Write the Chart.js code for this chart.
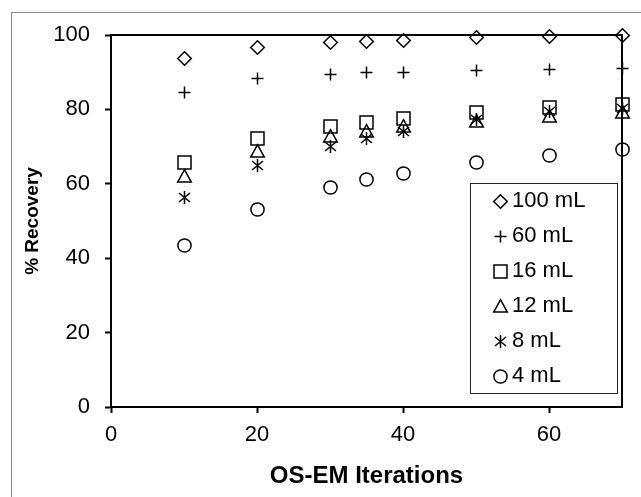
<!DOCTYPE html>
<html>
<head>
<meta charset="utf-8">
<script src="https://cdn.jsdelivr.net/npm/chart.js@4.4.1/dist/chart.umd.min.js"></script>
<style>
  body { margin: 0; background: #fff; }
  canvas { display: block; }
</style>
</head>
<body>
<canvas id="grafico" width="641" height="497"></canvas>
<script>
// iteracoes OS-EM (eixo x)
var iteracoes = [10, 20, 30, 35, 40, 50, 60, 70];
// % de recuperacao por volume
var rec100 = [93.6, 96.7, 98.0, 98.3, 98.5, 99.4, 99.6, 100.0];
var rec60 = [84.5, 88.2, 89.5, 90.0, 90.0, 90.4, 90.8, 90.9];
var rec16 = [65.8, 72.1, 75.4, 76.4, 77.6, 79.1, 80.6, 81.2];
var rec12 = [61.9, 68.6, 72.7, 74.0, 75.4, 76.7, 78.1, 79.1];
var rec8 = [56.3, 64.8, 70.0, 72.2, 74.0, 77.2, 79.4, 80.3];
var rec4 = [43.3, 53.2, 59.0, 61.2, 62.8, 65.7, 67.7, 69.3];
var nomes = ['100 mL', '60 mL', '16 mL', '12 mL', '8 mL', '4 mL'];
var ticksX = [0, 20, 40, 60];
var ticksY = [0, 20, 40, 60, 80, 100];

var fonte = 'Arial, "Liberation Sans", sans-serif';

function pontos(valores) {
    return iteracoes.map(function (x, i) { return { x: x, y: valores[i] }; });
}

// marcadores no estilo do Excel, desenhados num canvas pequeno
function marcador(tipo) {
    var t = 17, c = 8.5;
    var cv = document.createElement('canvas');
    cv.width = t;
    cv.height = t;
    var g = cv.getContext('2d');
    g.strokeStyle = '#000';
    g.lineWidth = 1.5;
    g.beginPath();
    if (tipo == 'losango') {
        g.moveTo(c, c - 6.8); g.lineTo(c + 6.8, c); g.lineTo(c, c + 6.8); g.lineTo(c - 6.8, c); g.closePath();
    } else if (tipo == 'mais') {
        g.moveTo(c - 6, c); g.lineTo(c + 6, c);
        g.moveTo(c, c - 6); g.lineTo(c, c + 6);
    } else if (tipo == 'quadrado') {
        g.rect(c - 6.5, c - 6.5, 13, 13);
    } else if (tipo == 'triangulo') {
        g.moveTo(c, c - 6.8); g.lineTo(c + 6.8, c + 5.6); g.lineTo(c - 6.8, c + 5.6); g.closePath();
    } else if (tipo == 'asterisco') {
        g.moveTo(c, c - 6.5); g.lineTo(c, c + 6.5);
        g.moveTo(c - 5.5, c - 4.5); g.lineTo(c + 5.5, c + 4.5);
        g.moveTo(c - 5.5, c + 4.5); g.lineTo(c + 5.5, c - 4.5);
    } else {
        g.arc(c, c, 6.6, 0, Math.PI * 2);
    }
    g.stroke();
    return cv;
}

function serie(nome, valores, estilo) {
    return {
        label: nome,
        data: pontos(valores),
        showLine: false,
        clip: false,
        pointStyle: marcador(estilo),
        pointRadius: 7,
        pointBorderWidth: 1.5,
        pointBorderColor: '#000',
        pointBackgroundColor: 'rgba(0,0,0,0)',
        borderColor: '#000',
        backgroundColor: 'rgba(0,0,0,0)'
    };
}

var molduras = {
    id: 'molduras',
    afterLayout: function (chart) {
        var leg = chart.legend;
        if (!leg) return;
        var w = leg.width, h = leg.height;
        leg.left = 486;
        leg.top = 177;
        leg.right = leg.left + w;
        leg.bottom = leg.top + h;
    },
    beforeDraw: function (chart) {
        var ctx = chart.ctx;
        ctx.imageSmoothingEnabled = false;
        ctx.save();
        ctx.strokeStyle = '#8c8c8c';
        ctx.lineWidth = 1;
        ctx.strokeRect(11.5, 12.5, 700, 600);
        ctx.restore();
    },
    beforeDatasetsDraw: function (chart) {
        var ctx = chart.ctx;
        var a = chart.chartArea;
        ctx.save();
        ctx.strokeStyle = '#000';
        ctx.lineWidth = 2;
        ctx.strokeRect(a.left, a.top, a.right - a.left, a.bottom - a.top);
        ctx.lineWidth = 1;
        ctx.strokeStyle = '#222';
        ctx.strokeRect(470.5, 183.5, 147, 210);
        ctx.restore();
    }
};

var ctx = document.getElementById('grafico').getContext('2d');
var grafico = new Chart(ctx, {
    type: 'scatter',
    data: {
        datasets: [
            serie(nomes[0], rec100, 'losango'),
            serie(nomes[1], rec60, 'mais'),
            serie(nomes[2], rec16, 'quadrado'),
            serie(nomes[3], rec12, 'triangulo'),
            serie(nomes[4], rec8, 'asterisco'),
            serie(nomes[5], rec4, 'circulo')
        ]
    },
    options: {
        responsive: false,
        animation: false,
        events: [],
        layout: { padding: { top: 35, right: 19, left: 12, bottom: 0 } },
        plugins: {
            tooltip: { enabled: false },
            legend: {
                position: 'chartArea',
                align: 'start',
                labels: {
                    usePointStyle: true,
                    boxWidth: 2,
                    boxHeight: 10,
                    padding: 13,
                    color: '#000',
                    font: { family: fonte, size: 22 }
                }
            }
        },
        scales: {
            x: {
                type: 'linear',
                min: 0,
                max: 70,
                afterFit: function (s) { s.height = 90; },
                afterBuildTicks: function (s) { s.ticks = ticksX.map(function (v) { return { value: v }; }); },
                grid: { drawOnChartArea: false, tickLength: 6, tickWidth: 2, tickColor: '#000' },
                border: { display: true, color: '#000', width: 2 },
                ticks: { color: '#000', padding: 9, font: { family: fonte, size: 22 } },
                title: {
                    display: true,
                    text: 'OS-EM Iterations',
                    color: '#000',
                    padding: { top: 0, bottom: 6.5 },
                    font: { family: fonte, size: 24, weight: 'bold' }
                }
            },
            y: {
                type: 'linear',
                min: 0,
                max: 100,
                afterFit: function (s) { s.width = 99; },
                afterBuildTicks: function (s) { s.ticks = ticksY.map(function (v) { return { value: v }; }); },
                grid: { drawOnChartArea: false, tickLength: 6, tickWidth: 2, tickColor: '#000' },
                border: { display: true, color: '#000', width: 2 },
                ticks: { color: '#000', padding: 15, font: { family: fonte, size: 22 } },
                title: {
                    display: true,
                    text: '% Recovery',
                    color: '#000',
                    padding: { top: 9, bottom: 0 },
                    font: { family: fonte, size: 19, weight: 'bold' }
                }
            }
        }
    },
    plugins: [molduras]
});
</script>
</body>
</html>
